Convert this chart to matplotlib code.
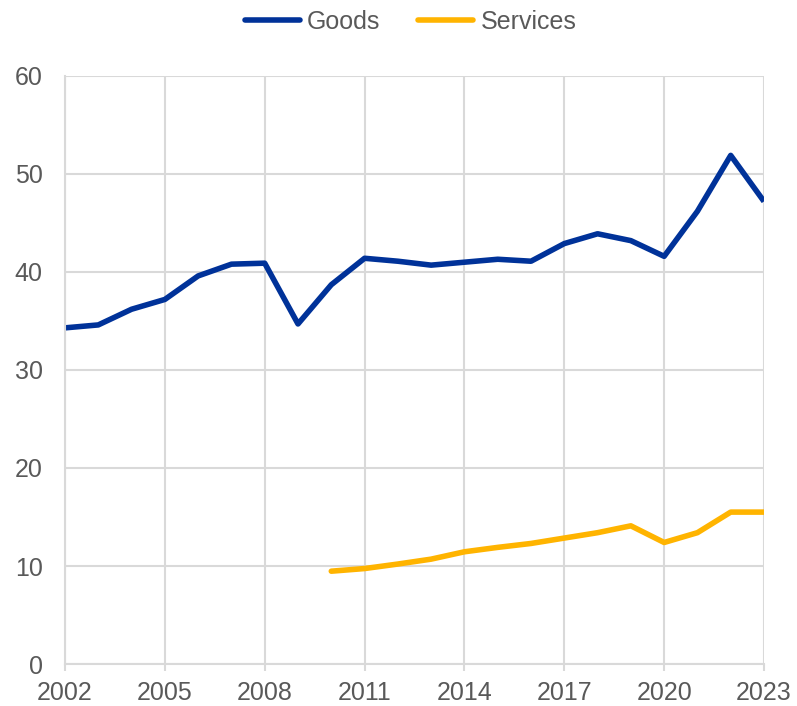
import matplotlib.pyplot as plt

plt.rcParams['font.family'] = ['Liberation Sans', 'DejaVu Sans']

years = list(range(2002, 2024))
goods = [34.3, 34.6, 36.2, 37.2, 39.6, 40.8, 40.9, 34.7, 38.7, 41.4, 41.1,
         40.7, 41.0, 41.3, 41.1, 42.9, 43.9, 43.2, 41.6, 46.2, 51.9, 47.2]
services_years = list(range(2010, 2024))
services = [9.47, 9.74, 10.2, 10.7, 11.45, 11.9, 12.3, 12.85, 13.4, 14.1,
            12.4, 13.4, 15.5, 15.5]
xticks = list(range(2002, 2024, 3))
yticks = [0, 10, 20, 30, 40, 50, 60]

txt = '#595959'
grid = '#d9d9d9'

fig = plt.figure(figsize=(7.97, 7.06), dpi=100)
ax = fig.add_axes([65/797, 42/706, 699/797, 588/706])

ax.plot(years, goods, color='#003299', lw=4.0, label='Goods', solid_capstyle='butt')
ax.plot(services_years, services, color='#FFB400', lw=4.0, label='Services',
        solid_capstyle='round')

ax.set_xlim(2002, 2023)
ax.set_ylim(0, 60)
ax.set_xticks(xticks)
ax.set_yticks(yticks)
ax.grid(True, color=grid, lw=1.5)
ax.set_axisbelow(True)

for s in ['top', 'right']:
    ax.spines[s].set_visible(False)
for s in ['left', 'bottom']:
    ax.spines[s].set_color(grid)
    ax.spines[s].set_linewidth(1.5)

ax.tick_params(axis='x', colors=txt, labelsize=18, length=5, width=1.5,
               color=grid, pad=7)
ax.tick_params(axis='y', colors=txt, labelsize=18, length=0, pad=16)

leg = fig.legend(loc='upper center', bbox_to_anchor=(0.515, 1.018), ncol=2,
                 frameon=False, fontsize=18, labelcolor=txt, handlelength=2.2,
                 handletextpad=0.3, columnspacing=1.5)
for h in leg.get_lines():
    h.set_solid_capstyle('round')

fig.savefig('out.png', dpi=100)
